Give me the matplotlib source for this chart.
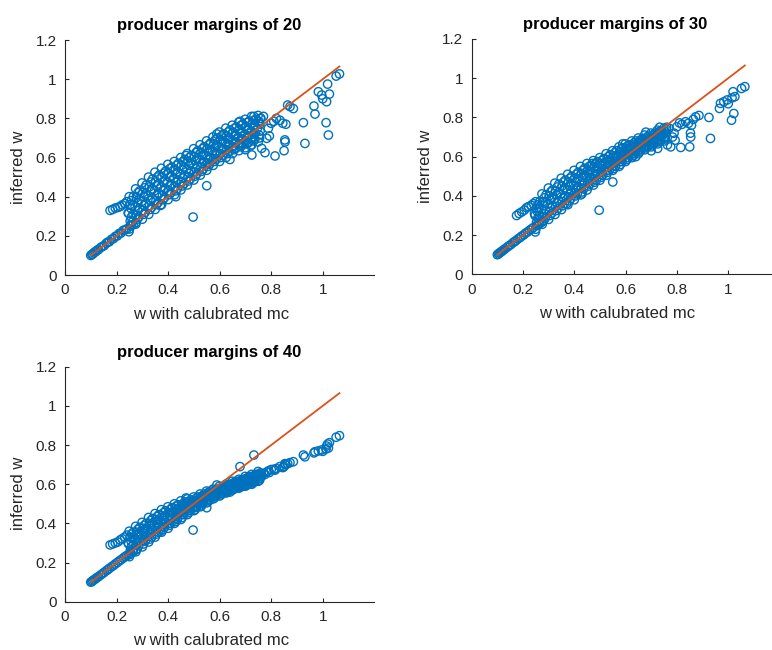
import numpy as np
import matplotlib
matplotlib.use("Agg")
import matplotlib.pyplot as plt

plt.rcParams['font.family'] = ['Liberation Sans', 'DejaVu Sans']

# w with calibrated mc (same for all three panels)
w_mc = [
    # lower track
    0.100, 0.104, 0.108, 0.112, 0.116, 0.120, 0.125, 0.130, 0.138, 0.145,
    0.152, 0.160, 0.166, 0.172, 0.180, 0.188, 0.195, 0.203, 0.210, 0.218,
    0.226, 0.233, 0.240, 0.248, 0.255, 0.265, 0.275,
    # upper branch start
    0.175, 0.185, 0.195, 0.205, 0.214, 0.222, 0.232, 0.245, 0.240,
    # dense band
    0.250, 0.253, 0.247, 0.252, 0.249,
    0.275, 0.278, 0.272, 0.277, 0.274,
    0.300, 0.303, 0.297, 0.302, 0.299,
    0.325, 0.328, 0.322, 0.327, 0.324,
    0.350, 0.353, 0.347, 0.352, 0.349,
    0.375, 0.378, 0.372, 0.377, 0.374,
    0.400, 0.403, 0.397, 0.402, 0.399,
    0.425, 0.428, 0.422, 0.427, 0.424,
    0.450, 0.453, 0.447, 0.452, 0.449,
    0.475, 0.478, 0.472, 0.477, 0.474,
    0.500, 0.503, 0.497, 0.502, 0.499,
    0.525, 0.528, 0.522, 0.527, 0.524,
    0.550, 0.553, 0.547, 0.552, 0.549,
    0.575, 0.578, 0.572, 0.577, 0.574,
    0.600, 0.603, 0.597, 0.602, 0.599,
    0.625, 0.628, 0.622, 0.627, 0.624,
    0.650, 0.653, 0.647, 0.652, 0.649,
    0.675, 0.678, 0.672, 0.677, 0.674,
    0.700, 0.703, 0.697, 0.702, 0.699,
    0.725, 0.728, 0.722, 0.727, 0.724,
    0.750, 0.753, 0.747, 0.752, 0.749,
    # dense band, in between
    0.261, 0.264, 0.262, 0.265,
    0.286, 0.289, 0.287, 0.290,
    0.311, 0.314, 0.312, 0.315,
    0.336, 0.339, 0.337, 0.340,
    0.361, 0.364, 0.362, 0.365,
    0.386, 0.389, 0.387, 0.390,
    0.411, 0.414, 0.412, 0.415,
    0.436, 0.439, 0.437, 0.440,
    0.461, 0.464, 0.462, 0.465,
    0.486, 0.489, 0.487, 0.490,
    0.511, 0.514, 0.512, 0.515,
    0.536, 0.539, 0.537, 0.540,
    0.561, 0.564, 0.562, 0.565,
    0.586, 0.589, 0.587, 0.590,
    0.611, 0.614, 0.612, 0.615,
    0.636, 0.639, 0.637, 0.640,
    0.661, 0.664, 0.662, 0.665,
    0.686, 0.689, 0.687, 0.690,
    0.711, 0.714, 0.712, 0.715,
    0.736, 0.739, 0.737, 0.740,
    # dense band, filling the gaps
    0.255, 0.257, 0.256, 0.258,
    0.280, 0.282, 0.281, 0.283,
    0.305, 0.307, 0.306, 0.308,
    0.330, 0.332, 0.331, 0.333,
    0.355, 0.357, 0.356, 0.358,
    0.380, 0.382, 0.381, 0.383,
    0.405, 0.407, 0.406, 0.408,
    0.430, 0.432, 0.431, 0.433,
    0.455, 0.457, 0.456, 0.458,
    0.480, 0.482, 0.481, 0.483,
    0.505, 0.507, 0.506, 0.508,
    0.530, 0.532, 0.531, 0.533,
    0.555, 0.557, 0.556, 0.558,
    0.580, 0.582, 0.581, 0.583,
    0.605, 0.607, 0.606, 0.608,
    0.630, 0.632, 0.631, 0.633,
    0.655, 0.657, 0.656, 0.658,
    0.680, 0.682, 0.681, 0.683,
    0.705, 0.707, 0.706, 0.708,
    0.730, 0.732, 0.731, 0.733,
    0.755, 0.757, 0.756, 0.758,
    # right side
    0.700, 0.725, 0.763, 0.776, 0.815, 0.850, 0.854, 0.853, 0.793, 0.789,
    0.800, 0.834, 0.845, 0.857, 0.873, 0.886, 0.864, 0.925, 0.931, 0.966,
    0.970, 0.983, 0.996, 1.000, 1.013, 1.015, 1.019, 1.022, 1.026, 1.052,
    1.065, 0.770, 0.690, 0.720, 0.783, 0.820, 0.810, 0.760,
    # outliers
    0.497, 0.550, 0.470, 0.589, 0.679, 0.733, 0.370, 0.430, 0.640,
]

# inferred w, producer margins of 20
inferred_20 = [
    0.100, 0.105, 0.107, 0.113, 0.118, 0.120, 0.127, 0.130, 0.140, 0.146,
    0.150, 0.162, 0.168, 0.170, 0.182, 0.186, 0.197, 0.200, 0.212, 0.215,
    0.228, 0.230, 0.236, 0.221, 0.250, 0.258, 0.268,
    0.330, 0.335, 0.342, 0.345, 0.350, 0.358, 0.365, 0.317, 0.375,
    0.235, 0.275, 0.315, 0.360, 0.400,
    0.260, 0.305, 0.350, 0.395, 0.440,
    0.285, 0.330, 0.375, 0.420, 0.470,
    0.310, 0.355, 0.405, 0.450, 0.500,
    0.335, 0.380, 0.430, 0.475, 0.525,
    0.360, 0.405, 0.450, 0.500, 0.545,
    0.385, 0.430, 0.475, 0.520, 0.565,
    0.410, 0.450, 0.495, 0.535, 0.580,
    0.435, 0.475, 0.515, 0.560, 0.600,
    0.460, 0.500, 0.540, 0.580, 0.620,
    0.485, 0.525, 0.565, 0.605, 0.645,
    0.510, 0.550, 0.590, 0.625, 0.665,
    0.535, 0.570, 0.610, 0.645, 0.685,
    0.560, 0.595, 0.630, 0.670, 0.705,
    0.580, 0.620, 0.655, 0.690, 0.730,
    0.600, 0.640, 0.675, 0.710, 0.750,
    0.620, 0.655, 0.690, 0.730, 0.765,
    0.635, 0.670, 0.705, 0.745, 0.780,
    0.650, 0.685, 0.720, 0.760, 0.795,
    0.665, 0.700, 0.735, 0.775, 0.810,
    0.680, 0.715, 0.750, 0.785, 0.815,
    0.270, 0.310, 0.355, 0.400,
    0.295, 0.340, 0.385, 0.430,
    0.320, 0.365, 0.415, 0.460,
    0.345, 0.390, 0.440, 0.490,
    0.370, 0.415, 0.465, 0.510,
    0.395, 0.440, 0.485, 0.530,
    0.420, 0.460, 0.505, 0.550,
    0.440, 0.485, 0.525, 0.570,
    0.465, 0.510, 0.550, 0.590,
    0.490, 0.530, 0.570, 0.610,
    0.515, 0.555, 0.595, 0.635,
    0.540, 0.580, 0.615, 0.655,
    0.565, 0.600, 0.640, 0.675,
    0.590, 0.625, 0.660, 0.700,
    0.610, 0.645, 0.685, 0.720,
    0.630, 0.665, 0.700, 0.740,
    0.645, 0.680, 0.715, 0.755,
    0.660, 0.695, 0.730, 0.770,
    0.675, 0.710, 0.745, 0.785,
    0.690, 0.725, 0.760, 0.795,
    0.255, 0.295, 0.340, 0.380,
    0.285, 0.330, 0.370, 0.420,
    0.310, 0.355, 0.400, 0.445,
    0.335, 0.380, 0.430, 0.475,
    0.360, 0.405, 0.455, 0.500,
    0.385, 0.430, 0.475, 0.520,
    0.410, 0.455, 0.500, 0.545,
    0.430, 0.475, 0.515, 0.560,
    0.455, 0.495, 0.540, 0.580,
    0.480, 0.520, 0.560, 0.600,
    0.505, 0.545, 0.585, 0.625,
    0.530, 0.570, 0.610, 0.645,
    0.555, 0.590, 0.630, 0.665,
    0.580, 0.615, 0.650, 0.690,
    0.600, 0.640, 0.675, 0.710,
    0.620, 0.660, 0.695, 0.730,
    0.640, 0.675, 0.710, 0.750,
    0.655, 0.690, 0.725, 0.765,
    0.670, 0.705, 0.740, 0.780,
    0.685, 0.720, 0.755, 0.790,
    0.700, 0.735, 0.770, 0.800,
    0.640, 0.613, 0.647, 0.625, 0.608, 0.635, 0.680, 0.690, 0.710, 0.749,
    0.775, 0.790, 0.775, 0.770, 0.860, 0.850, 0.868, 0.778, 0.672, 0.863,
    0.822, 0.936, 0.919, 0.900, 0.778, 0.885, 0.975, 0.715, 0.924, 1.016,
    1.027, 0.810, 0.673, 0.660, 0.698, 0.800, 0.785, 0.800,
    0.296, 0.456, 0.610, 0.720, 0.785, 0.810, 0.355, 0.400, 0.590,
]

# inferred w, producer margins of 30
inferred_30 = [
    0.100, 0.104, 0.108, 0.112, 0.116, 0.120, 0.125, 0.130, 0.138, 0.145,
    0.151, 0.160, 0.166, 0.171, 0.180, 0.187, 0.195, 0.201, 0.210, 0.216,
    0.225, 0.231, 0.238, 0.216, 0.250, 0.258, 0.267,
    0.300, 0.310, 0.318, 0.327, 0.340, 0.345, 0.352, 0.310, 0.360,
    0.230, 0.265, 0.300, 0.335, 0.370,
    0.255, 0.295, 0.330, 0.370, 0.410,
    0.280, 0.320, 0.360, 0.400, 0.440,
    0.305, 0.345, 0.385, 0.425, 0.465,
    0.330, 0.370, 0.410, 0.450, 0.490,
    0.355, 0.395, 0.430, 0.470, 0.510,
    0.380, 0.415, 0.455, 0.490, 0.530,
    0.405, 0.440, 0.475, 0.515, 0.550,
    0.430, 0.465, 0.500, 0.530, 0.565,
    0.455, 0.485, 0.515, 0.550, 0.580,
    0.480, 0.510, 0.540, 0.565, 0.595,
    0.505, 0.530, 0.560, 0.585, 0.615,
    0.530, 0.555, 0.580, 0.605, 0.630,
    0.550, 0.575, 0.600, 0.625, 0.650,
    0.575, 0.595, 0.620, 0.640, 0.665,
    0.595, 0.615, 0.635, 0.660, 0.680,
    0.615, 0.635, 0.655, 0.675, 0.695,
    0.635, 0.655, 0.670, 0.690, 0.710,
    0.650, 0.670, 0.685, 0.705, 0.720,
    0.665, 0.685, 0.700, 0.720, 0.735,
    0.680, 0.695, 0.715, 0.730, 0.745,
    0.260, 0.300, 0.335, 0.370,
    0.285, 0.325, 0.365, 0.405,
    0.310, 0.350, 0.390, 0.430,
    0.335, 0.375, 0.415, 0.460,
    0.360, 0.400, 0.440, 0.480,
    0.385, 0.425, 0.460, 0.500,
    0.410, 0.445, 0.485, 0.520,
    0.435, 0.470, 0.505, 0.540,
    0.460, 0.490, 0.525, 0.555,
    0.480, 0.510, 0.540, 0.575,
    0.505, 0.535, 0.560, 0.590,
    0.530, 0.555, 0.580, 0.610,
    0.550, 0.575, 0.600, 0.630,
    0.575, 0.600, 0.620, 0.645,
    0.595, 0.615, 0.640, 0.660,
    0.615, 0.635, 0.655, 0.680,
    0.635, 0.655, 0.675, 0.690,
    0.650, 0.670, 0.685, 0.705,
    0.665, 0.685, 0.700, 0.720,
    0.680, 0.700, 0.715, 0.730,
    0.250, 0.285, 0.320, 0.355,
    0.275, 0.310, 0.350, 0.390,
    0.300, 0.340, 0.380, 0.420,
    0.325, 0.365, 0.405, 0.445,
    0.350, 0.390, 0.430, 0.470,
    0.375, 0.410, 0.450, 0.490,
    0.400, 0.435, 0.470, 0.510,
    0.420, 0.460, 0.495, 0.530,
    0.450, 0.480, 0.515, 0.550,
    0.470, 0.500, 0.530, 0.565,
    0.495, 0.525, 0.555, 0.580,
    0.520, 0.545, 0.570, 0.600,
    0.540, 0.570, 0.590, 0.620,
    0.560, 0.590, 0.610, 0.640,
    0.585, 0.610, 0.630, 0.655,
    0.605, 0.625, 0.650, 0.670,
    0.625, 0.645, 0.665, 0.685,
    0.645, 0.660, 0.680, 0.700,
    0.660, 0.680, 0.695, 0.710,
    0.675, 0.690, 0.710, 0.730,
    0.690, 0.705, 0.720, 0.740,
    0.630, 0.642, 0.660, 0.650, 0.647, 0.650, 0.700, 0.720, 0.684, 0.720,
    0.752, 0.778, 0.770, 0.760, 0.803, 0.810, 0.790, 0.800, 0.693, 0.846,
    0.872, 0.880, 0.889, 0.870, 0.786, 0.900, 0.931, 0.820, 0.906, 0.948,
    0.957, 0.745, 0.680, 0.700, 0.700, 0.765, 0.772, 0.750,
    0.327, 0.471, 0.565, 0.665, 0.725, 0.750, 0.360, 0.410, 0.600,
]

# inferred w, producer margins of 40
inferred_40 = [
    0.100, 0.103, 0.107, 0.111, 0.115, 0.119, 0.124, 0.128, 0.136, 0.143,
    0.150, 0.158, 0.164, 0.170, 0.178, 0.185, 0.193, 0.200, 0.208, 0.215,
    0.223, 0.230, 0.236, 0.240, 0.248, 0.256, 0.265,
    0.290, 0.295, 0.300, 0.305, 0.315, 0.322, 0.330, 0.300, 0.340,
    0.230, 0.260, 0.295, 0.330, 0.360,
    0.255, 0.290, 0.320, 0.355, 0.385,
    0.280, 0.310, 0.340, 0.375, 0.405,
    0.305, 0.335, 0.365, 0.400, 0.430,
    0.330, 0.360, 0.390, 0.420, 0.450,
    0.355, 0.385, 0.410, 0.440, 0.470,
    0.375, 0.400, 0.430, 0.455, 0.485,
    0.400, 0.425, 0.450, 0.475, 0.500,
    0.420, 0.445, 0.465, 0.490, 0.515,
    0.445, 0.465, 0.485, 0.505, 0.525,
    0.465, 0.480, 0.500, 0.515, 0.535,
    0.485, 0.500, 0.515, 0.535, 0.550,
    0.505, 0.520, 0.535, 0.550, 0.565,
    0.525, 0.537, 0.550, 0.562, 0.575,
    0.540, 0.552, 0.565, 0.577, 0.590,
    0.555, 0.567, 0.578, 0.590, 0.600,
    0.570, 0.580, 0.592, 0.603, 0.615,
    0.580, 0.590, 0.602, 0.613, 0.625,
    0.590, 0.602, 0.615, 0.627, 0.640,
    0.600, 0.612, 0.625, 0.637, 0.650,
    0.615, 0.627, 0.640, 0.652, 0.665,
    0.260, 0.290, 0.325, 0.355,
    0.285, 0.315, 0.345, 0.380,
    0.310, 0.340, 0.370, 0.400,
    0.330, 0.365, 0.395, 0.425,
    0.355, 0.385, 0.415, 0.445,
    0.380, 0.405, 0.435, 0.465,
    0.400, 0.425, 0.455, 0.480,
    0.420, 0.445, 0.470, 0.495,
    0.445, 0.465, 0.485, 0.510,
    0.465, 0.485, 0.500, 0.520,
    0.485, 0.500, 0.515, 0.535,
    0.505, 0.520, 0.535, 0.550,
    0.520, 0.535, 0.550, 0.565,
    0.540, 0.550, 0.565, 0.575,
    0.555, 0.565, 0.575, 0.590,
    0.570, 0.580, 0.590, 0.600,
    0.580, 0.590, 0.605, 0.615,
    0.590, 0.605, 0.615, 0.625,
    0.600, 0.615, 0.625, 0.640,
    0.615, 0.625, 0.640, 0.650,
    0.245, 0.280, 0.310, 0.345,
    0.270, 0.305, 0.340, 0.370,
    0.295, 0.325, 0.360, 0.390,
    0.320, 0.350, 0.385, 0.415,
    0.345, 0.375, 0.405, 0.435,
    0.370, 0.395, 0.425, 0.455,
    0.390, 0.415, 0.440, 0.470,
    0.410, 0.435, 0.460, 0.490,
    0.430, 0.455, 0.480, 0.500,
    0.455, 0.475, 0.495, 0.515,
    0.470, 0.490, 0.510, 0.525,
    0.490, 0.510, 0.525, 0.540,
    0.510, 0.530, 0.545, 0.560,
    0.530, 0.545, 0.555, 0.570,
    0.545, 0.560, 0.570, 0.585,
    0.560, 0.573, 0.585, 0.595,
    0.575, 0.587, 0.598, 0.610,
    0.585, 0.597, 0.608, 0.620,
    0.595, 0.608, 0.620, 0.633,
    0.606, 0.618, 0.630, 0.643,
    0.620, 0.633, 0.646, 0.658,
    0.600, 0.610, 0.640, 0.650, 0.672, 0.690, 0.700, 0.705, 0.660, 0.668,
    0.675, 0.690, 0.685, 0.700, 0.710, 0.715, 0.705, 0.749, 0.740, 0.760,
    0.766, 0.770, 0.775, 0.768, 0.780, 0.795, 0.805, 0.785, 0.812, 0.840,
    0.848, 0.655, 0.595, 0.615, 0.662, 0.680, 0.676, 0.650,
    0.366, 0.480, 0.530, 0.596, 0.690, 0.749, 0.360, 0.410, 0.560,
]

margins = [20, 30, 40]
ticks = [0, 0.2, 0.4, 0.6, 0.8, 1, 1.2]
tick_labels = ['0', '0.2', '0.4', '0.6', '0.8', '1', '1.2']

blue = '#0072BD'
orange = '#D95319'
dark = '#262626'

fig = plt.figure(figsize=(7.72, 6.5), dpi=100)
positions = [
    [0.0842, 0.5769, 0.4006, 0.3615],
    [0.611, 0.578, 0.3987, 0.362],
    [0.0842, 0.0743, 0.4006, 0.3615],
]
series = [inferred_20, inferred_30, inferred_40]

diag = [min(w_mc), max(w_mc)]

for pos, y, m in zip(positions, series, margins):
    ax = fig.add_axes(pos)
    ax.scatter(w_mc, y, s=36, facecolors='none', edgecolors=blue, linewidths=1.0)
    ax.plot(diag, diag, color=orange, lw=1.3)
    ax.set_xlim(0, 1.2)
    ax.set_ylim(0, 1.2)
    ax.set_xticks(ticks[:-1])
    ax.set_xticklabels(tick_labels[:-1])
    ax.set_yticks(ticks)
    ax.set_yticklabels(tick_labels)
    ax.tick_params(direction='in', length=3, width=0.8, colors=dark, labelsize=11, pad=6)
    for side in ['top', 'right']:
        ax.spines[side].set_visible(False)
    for side in ['left', 'bottom']:
        ax.spines[side].set_color(dark)
        ax.spines[side].set_linewidth(0.8)
    ax.set_xlabel('w with calubrated mc', fontsize=12, color=dark)
    ax.xaxis.set_label_coords(0.472, -0.135)
    ax.set_ylabel('inferred w', fontsize=12, color=dark)
    ax.yaxis.set_label_coords(-0.125, 0.46)
    ax.set_title(f'producer margins of {m}', fontsize=12, fontweight='bold', pad=7, x=0.466)

fig.savefig('out.png', dpi=100)
